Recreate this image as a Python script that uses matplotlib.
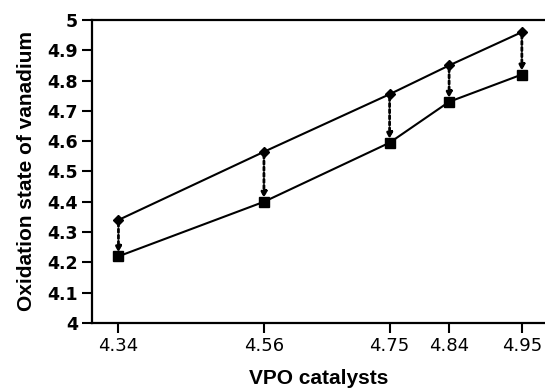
import matplotlib
matplotlib.use("Agg")
import matplotlib.pyplot as plt

plt.rcParams['font.family'] = ['Liberation Sans', 'DejaVu Sans']

catalysts = [4.34, 4.56, 4.75, 4.84, 4.95]
before = [4.34, 4.565, 4.755, 4.85, 4.96]
after = [4.22, 4.40, 4.595, 4.73, 4.82]
yticks = [4, 4.1, 4.2, 4.3, 4.4, 4.5, 4.6, 4.7, 4.8, 4.9, 5]
ytick_labels = ['4', '4.1', '4.2', '4.3', '4.4', '4.5', '4.6', '4.7', '4.8', '4.9', '5']
xtick_labels = ['4.34', '4.56', '4.75', '4.84', '4.95']

fig = plt.figure(figsize=(5.45, 3.89), dpi=100)
ax = fig.add_axes([0.1688, 0.1697, 0.8312, 0.7789])

ax.plot(catalysts, before, color='black', lw=1.5, marker='D', ms=5, zorder=3)
ax.plot(catalysts, after, color='black', lw=1.5, marker='s', ms=7, zorder=3)

for xv, y0, y1 in zip(catalysts, before, after):
    ax.annotate('', xy=(xv, y1 + 0.012), xytext=(xv, y0 - 0.01),
                arrowprops=dict(arrowstyle='-|>', linestyle=(0, (1.2, 1.0)),
                                lw=2.0, color='black', mutation_scale=8,
                                shrinkA=0, shrinkB=0))

ax.set_xlim(4.30, 4.985)
ax.set_ylim(4, 5)
ax.set_xticks(catalysts)
ax.set_xticklabels(xtick_labels, fontsize=13, family=['DejaVu Sans'])
ax.set_yticks(yticks)
ax.set_yticklabels(ytick_labels, fontsize=12.5, fontweight='bold', family=['DejaVu Sans'])
ax.tick_params(axis='both', direction='out', length=7, width=1.5, color='black')
ax.tick_params(axis='x', pad=3)
ax.tick_params(axis='y', pad=3)
for s in ['left', 'bottom', 'top']:
    ax.spines[s].set_linewidth(1.6)
ax.spines['right'].set_visible(False)

ax.set_xlabel('VPO catalysts', fontsize=15, fontweight='bold', va='baseline')
ax.xaxis.set_label_coords(0.5, -0.201)
ax.set_ylabel('Oxidation state of vanadium', fontsize=15, fontweight='bold', labelpad=8)

fig.savefig('out.png', dpi=100)
